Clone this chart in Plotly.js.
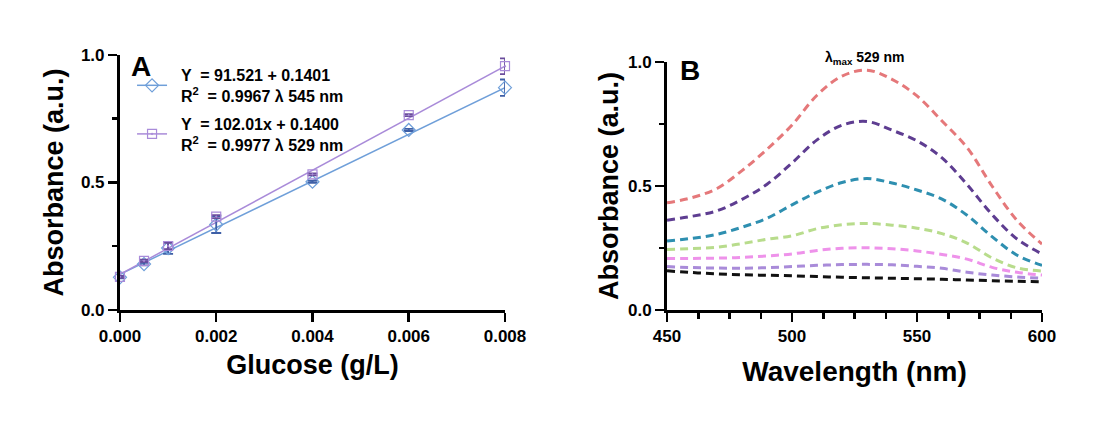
<!DOCTYPE html>
<html>
<head>
<meta charset="utf-8">
<script src="https://cdn.plot.ly/plotly-3.0.1.min.js"></script>
<style>
  html, body { margin: 0; padding: 0; background: #fff; }
  #chart { width: 1119px; height: 426px; }
</style>
</head>
<body>
<div id="chart"></div>
<script>
// Panel A: calibration (glucose vs absorbance)
const glucose = [0, 0.0005, 0.001, 0.002, 0.004, 0.006, 0.008];
const abs545 = [0.128, 0.180, 0.243, 0.335, 0.503, 0.706, 0.872];
const err545 = [0.004, 0.005, 0.023, 0.033, 0.004, 0.004, 0.032];
const abs529 = [0.130, 0.193, 0.251, 0.366, 0.532, 0.764, 0.956];
const err529 = [0.004, 0.004, 0.012, 0.006, 0.004, 0.004, 0.031];
const fitX = [0, 0.008];
const fit545 = [0.140, 0.872];
const fit529 = [0.140, 0.956];
const legend545 = '&nbsp;&nbsp;Y  = 91.521 + 0.1401<br>&nbsp;&nbsp;R<sup>2</sup>  = 0.9967 λ 545 nm';
const legend529 = '&nbsp;&nbsp;Y  = 102.01x + 0.1400<br>&nbsp;&nbsp;R<sup>2</sup>  = 0.9977 λ 529 nm';

// Panel B: spectra
const wavelength = [450, 460, 470, 480, 490, 500, 510, 520, 530, 540, 550, 560, 570, 580, 590, 600];
const spec1 = [0.432, 0.453, 0.490, 0.562, 0.648, 0.746, 0.866, 0.943, 0.967, 0.930, 0.863, 0.762, 0.655, 0.500, 0.361, 0.266];
const spec2 = [0.362, 0.378, 0.400, 0.446, 0.507, 0.593, 0.686, 0.745, 0.760, 0.725, 0.682, 0.613, 0.506, 0.385, 0.286, 0.226];
const spec3 = [0.278, 0.289, 0.305, 0.334, 0.370, 0.424, 0.475, 0.514, 0.530, 0.512, 0.484, 0.447, 0.382, 0.296, 0.221, 0.180];
const spec4 = [0.244, 0.248, 0.253, 0.268, 0.285, 0.299, 0.328, 0.344, 0.349, 0.342, 0.330, 0.308, 0.270, 0.210, 0.170, 0.157];
const spec5 = [0.208, 0.208, 0.209, 0.212, 0.218, 0.226, 0.240, 0.249, 0.251, 0.247, 0.238, 0.224, 0.205, 0.172, 0.152, 0.141];
const spec6 = [0.175, 0.171, 0.169, 0.168, 0.171, 0.175, 0.180, 0.183, 0.184, 0.182, 0.176, 0.168, 0.152, 0.141, 0.133, 0.128];
const spec7 = [0.158, 0.151, 0.146, 0.142, 0.140, 0.138, 0.135, 0.132, 0.130, 0.128, 0.126, 0.124, 0.121, 0.118, 0.116, 0.114];
const spectra = [spec1, spec2, spec3, spec4, spec5, spec6, spec7];
const specColors = ['#e5787a', '#5e3d91', '#2e8fb0', '#b8dc8c', '#ee92ea', '#a98bd9', '#111111'];
const peakWavelength = 529;

const FONT = 'Arial, "Liberation Sans", sans-serif';
const blue = '#6f9fd9', blueDark = '#3e5fa6';
const purple = '#a98bd9', purpleDark = '#6a4c9c';

const traces = [];

// fit lines
traces.push({ x: fitX, y: fit545, mode: 'lines', line: {color: blue, width: 1.5}, showlegend: false, hoverinfo: 'none' });
traces.push({ x: fitX, y: fit529, mode: 'lines', line: {color: purple, width: 1.5}, showlegend: false, hoverinfo: 'none' });

// data points with error bars
traces.push({
    x: glucose, y: abs545, mode: 'markers', showlegend: false, cliponaxis: false,
    marker: {symbol: 'diamond-open', size: 10, color: blue, line: {width: 1.2}},
    error_y: {type: 'data', array: err545, color: blueDark, thickness: 1.8, width: 5}
});
traces.push({
    x: glucose, y: abs529, mode: 'markers', showlegend: false, cliponaxis: false,
    marker: {symbol: 'square-open-dot', size: 9, color: purple, line: {width: 1.2}},
    error_y: {type: 'data', array: err529, color: purpleDark, thickness: 1.8, width: 5}
});

// legend entries
traces.push({ x: [null], y: [null], mode: 'lines+markers', name: legend545, legendgroup: 'g545',
    line: {color: blue, width: 1.5}, marker: {symbol: 'diamond-open', size: 10, color: blue, line: {width: 1.2}} });
traces.push({ x: [null], y: [null], mode: 'lines+markers', name: legend529, legendgroup: 'g529',
    line: {color: purple, width: 1.5}, marker: {symbol: 'square-open-dot', size: 9, color: purple, line: {width: 1.2}} });

// spectra
spectra.forEach((s, i) => {
    traces.push({
        x: wavelength, y: s, xaxis: 'x2', yaxis: 'y2', mode: 'lines', showlegend: false,
        line: {color: specColors[i], width: 3, dash: '8px,5px', shape: 'spline', smoothing: 1}
    });
});

const axisBase = {
    showline: true, linewidth: 3, linecolor: '#000', mirror: false,
    ticks: 'outside', ticklen: 9, tickwidth: 2.5, tickcolor: '#000',
    showgrid: false, zeroline: false, fixedrange: true,
    tickfont: {family: FONT, size: 17, color: '#000', weight: 'bold'}
};
const minorY = {ticks: 'outside', ticklen: 5, tickwidth: 2.5, tickcolor: '#000', dtick: 0.25, showgrid: false};
const titleFont = (size) => ({family: FONT, size: size, weight: 'bold', color: '#000'});

const layout = {
    width: 1119, height: 426,
    margin: {l: 0, r: 0, t: 0, b: 0},
    paper_bgcolor: '#fff', plot_bgcolor: '#fff',
    font: {family: FONT, color: '#000'},
    xaxis: Object.assign({}, axisBase, {
        domain: [0.1072, 0.4513], range: [0, 0.008], dtick: 0.002, tickformat: '.3f', anchor: 'y',
        title: {text: 'Glucose (g/L)', font: titleFont(27), standoff: 10}
    }),
    yaxis: Object.assign({}, axisBase, {
        domain: [0.2723, 0.8709], range: [0, 1], dtick: 0.5, tickformat: '.1f', anchor: 'x',
        minor: minorY,
        title: {text: 'Absorbance (a.u.)', font: titleFont(27), standoff: 10}
    }),
    xaxis2: Object.assign({}, axisBase, {
        domain: [0.5961, 0.9312], range: [450, 600], dtick: 50, anchor: 'y2',
        minor: {ticks: 'outside', ticklen: 6, tickwidth: 2.5, tickcolor: '#000', dtick: 12.5, showgrid: false},
        title: {text: 'Wavelength (nm)', font: titleFont(28), standoff: 16}
    }),
    yaxis2: Object.assign({}, axisBase, {
        domain: [0.2723, 0.8545], range: [0, 1], dtick: 0.5, tickformat: '.1f', anchor: 'x2',
        minor: minorY,
        title: {text: 'Absorbance (a.u.)', font: titleFont(27), standoff: 2}
    }),
    showlegend: true,
    legend: {
        x: 0.118, y: 1 - 58 / 426, xanchor: 'left', yanchor: 'top',
        bgcolor: 'rgba(0,0,0,0)', borderwidth: 0, tracegroupgap: 4,
        font: {family: FONT, size: 16, color: '#000', weight: 'bold'},
        valign: 'middle'
    },
    annotations: [
        {xref: 'paper', yref: 'paper', x: 140.5 / 1119, y: 1 - 66.5 / 426, xanchor: 'center', yanchor: 'middle',
         text: '<b>A</b>', showarrow: false, font: {family: FONT, size: 28, color: '#000'}},
        {xref: 'paper', yref: 'paper', x: 690 / 1119, y: 1 - 70.5 / 426, xanchor: 'center', yanchor: 'middle',
         text: '<b>B</b>', showarrow: false, font: {family: FONT, size: 28, color: '#000'}},
        {xref: 'x2', yref: 'paper', x: peakWavelength, y: 1 - 58 / 426, xanchor: 'center', yanchor: 'middle',
         text: '<b>λ<sub>max</sub> 529 nm</b>', showarrow: false,
         font: {family: FONT, size: 14, color: '#000'}}
    ]
};

Plotly.newPlot('chart', traces, layout, {displayModeBar: false, staticPlot: true});
</script>
</body>
</html>
